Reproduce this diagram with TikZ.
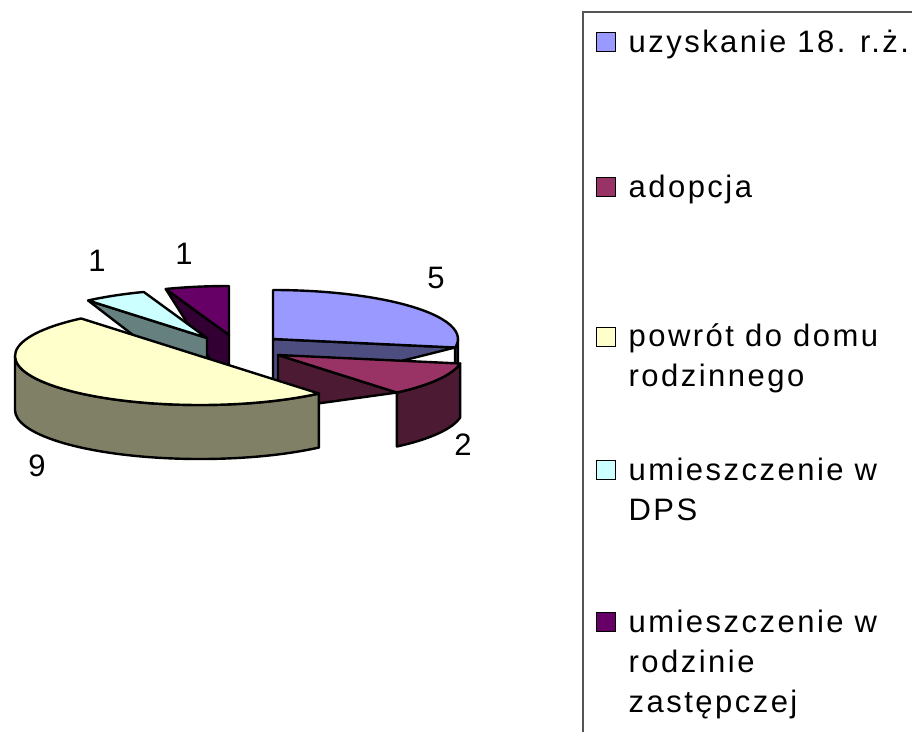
\documentclass[tikz,border=0pt]{standalone}
\usepackage{fontspec}
\setmainfont{Liberation Sans}[LetterSpace=8]
\usetikzlibrary{calc,positioning}

\definecolor{top1}{HTML}{9999FF}\definecolor{side1}{HTML}{4D4D80}
\definecolor{top2}{HTML}{993366}\definecolor{side2}{HTML}{4D1A33}
\definecolor{top3}{HTML}{FFFFCC}\definecolor{side3}{HTML}{808066}
\definecolor{top4}{HTML}{CCFFFF}\definecolor{side4}{HTML}{668080}
\definecolor{top5}{HTML}{660066}\definecolor{side5}{HTML}{330033}
\definecolor{frame}{HTML}{555555}

% pie radii and height
\def\rx{185}
\def\ry{49}
\def\hh{54}

\begin{document}
\begin{tikzpicture}[x=1pt,y=1pt,
    pie/.style={draw=black,line width=2.4pt,line join=round},
    num/.style={font=\fontsize{31}{36}\selectfont,inner sep=0pt},
    legkey/.style={draw=black,line width=1.4pt,minimum size=19pt,inner sep=0pt,anchor=south west},
    legtext/.style={font=\fontsize{31}{40}\selectfont,inner sep=0pt,align=left,anchor=base west}]
    \useasboundingbox (0,0) rectangle (912,-731);
    \clip (0,0) rectangle (912,-731);

    \coordinate (c1) at (273,-339);
    \coordinate (c2) at (278,-355);
    \coordinate (c3) at (200,-356);
    \coordinate (c4) at (207,-338);
    \coordinate (c5) at (229,-335);

    % umieszczenie w rodzinie zastepczej
    \filldraw[pie,fill=side5] (c5) -- +(110:{\rx} and {\ry}) -- ++(0,-\hh) -- ($(c5)+(0,-\hh)$) -- cycle;
    \filldraw[pie,fill=top5] (c5) -- +(90:{\rx} and {\ry}) arc[start angle=90,end angle=110,x radius=\rx,y radius=\ry] -- cycle;

    % umieszczenie w DPS
    \filldraw[pie,fill=side4] (c4) -- +(130:{\rx} and {\ry}) -- ++(0,-\hh) -- ($(c4)+(0,-\hh)$) -- cycle;
    \filldraw[pie,fill=top4] (c4) -- +(110:{\rx} and {\ry}) arc[start angle=110,end angle=130,x radius=\rx,y radius=\ry] -- cycle;

    % uzyskanie 18 r.z.
    \filldraw[pie,fill=side1] ($(c1)+(0:{\rx} and {\ry})$) arc[start angle=0,end angle=-10,x radius=\rx,y radius=\ry]
        -- ++(0,-\hh) arc[start angle=-10,end angle=0,x radius=\rx,y radius=\ry] -- cycle;
    \filldraw[pie,fill=side1] (c1) -- +(-10:{\rx} and {\ry}) -- ++(0,-\hh) -- ($(c1)+(0,-\hh)$) -- cycle;
    \filldraw[pie,fill=top1] (c1) -- +(-10:{\rx} and {\ry}) arc[start angle=-10,end angle=90,x radius=\rx,y radius=\ry] -- cycle;

    % adopcja
    \filldraw[pie,fill=side2] ($(c2)+(-10:{\rx} and {\ry})$) arc[start angle=-10,end angle=-50,x radius=\rx,y radius=\ry]
        -- ++(0,-\hh) arc[start angle=-50,end angle=-10,x radius=\rx,y radius=\ry] -- cycle;
    \filldraw[pie,fill=side2] (c2) -- +(-50:{\rx} and {\ry}) -- ++(0,-\hh) -- ($(c2)+(0,-\hh)$) -- cycle;
    \filldraw[pie,fill=top2] (c2) -- +(-50:{\rx} and {\ry}) arc[start angle=-50,end angle=-10,x radius=\rx,y radius=\ry] -- cycle;

    % powrot do domu
    \filldraw[pie,fill=side3] ($(c3)+(180:{\rx} and {\ry})$) arc[start angle=180,end angle=310,x radius=\rx,y radius=\ry]
        -- ++(0,-\hh) arc[start angle=310,end angle=180,x radius=\rx,y radius=\ry] -- cycle;
    \filldraw[pie,fill=top3] (c3) -- +(130:{\rx} and {\ry}) arc[start angle=130,end angle=310,x radius=\rx,y radius=\ry] -- cycle;

    % values
    \node[num] (v1) at (436,-278) {5};
    \node[num] (v2) at (463,-445) {2};
    \node[num] (v3) at (37,-466) {9};
    \node[num] (v4) at (97,-261) {1};
    \node[num] (v5) at (184,-254) {1};

    % legend
    \draw[frame,line width=1.5pt] (583,-12) rectangle (940,-760);
    \node[legkey,fill=top1] (k1) at (596,-52) {};
    \node[legkey,fill=top2] (k2) at (596,-197) {};
    \node[legkey,fill=top3] (k3) at (596,-347) {};
    \node[legkey,fill=top4] (k4) at (596,-480) {};
    \node[legkey,fill=top5] (k5) at (596,-632) {};
    \node[legtext] (t1) at ([xshift=12pt]k1.south east) {uzyskanie 18. r.ż.};
    \node[legtext] (t2) at ([xshift=12pt]k2.south east) {adopcja};
    \node[legtext] (t3) at ([xshift=12pt,yshift=-39pt]k3.south east) {powrót do domu\\rodzinnego};
    \node[legtext] (t4) at ([xshift=12pt,yshift=-40pt]k4.south east) {umieszczenie w\\DPS};
    \node[legtext] (t5) at ([xshift=12pt,yshift=-80pt]k5.south east) {umieszczenie w\\rodzinie\\zastępczej};
\end{tikzpicture}
\end{document}
